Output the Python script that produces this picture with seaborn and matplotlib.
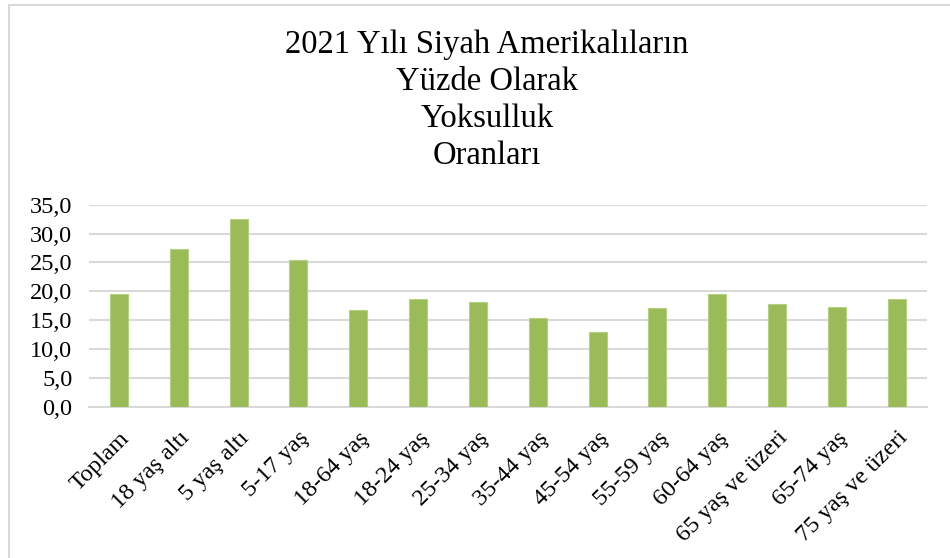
import matplotlib
matplotlib.use("Agg")
import matplotlib.pyplot as plt
from matplotlib.lines import Line2D
from matplotlib.ticker import FuncFormatter
import seaborn as sns
import pandas as pd

# Data
categories = ['Toplam', '18 yaş altı', '5 yaş altı', '5-17 yaş', '18-64 yaş',
              '18-24 yaş', '25-34 yaş', '35-44 yaş', '45-54 yaş', '55-59 yaş',
              '60-64 yaş', '65 yaş ve üzeri', '65-74 yaş', '75 yaş ve üzeri']
rates = [19.5, 27.3, 32.5, 25.5, 16.7, 18.7, 18.1, 15.3, 12.9, 17.1,
         19.6, 17.8, 17.3, 18.7]
title_lines = ['2021 Yılı Siyah Amerikalıların', 'Yüzde Olarak', 'Yoksulluk', 'Oranları']
y_ticks = [0, 5, 10, 15, 20, 25, 30, 35]

sns.set_theme(style='white')
plt.rcParams['font.family'] = ['Liberation Serif', 'DejaVu Serif']
plt.rcParams['text.color'] = 'black'

df = pd.DataFrame({'kategori': categories, 'oran': rates})

fig = plt.figure(figsize=(9.5, 5.58), dpi=100)
ax = fig.add_axes([89 / 950, 1 - 406.7 / 558, (926.7 - 89) / 950, (406.7 - 204.7) / 558])

sns.barplot(data=df, x='kategori', y='oran', color='#9BBB59', saturation=1,
            width=0.3, edgecolor='#B5CF85', linewidth=0.8, ax=ax, zorder=3)

ax.set_ylim(0, 35)
ax.set_xlim(-0.5, len(categories) - 0.5)
ax.set_yticks(y_ticks)
ax.yaxis.set_major_formatter(FuncFormatter(lambda v, p: f'{v:.1f}'.replace('.', ',')))
ax.grid(axis='y', color='#D9D9D9', linewidth=1.5, zorder=0)
ax.set_axisbelow(True)
for side in ['top', 'right', 'left']:
    ax.spines[side].set_visible(False)
ax.spines['bottom'].set_color('#D9D9D9')
ax.spines['bottom'].set_linewidth(1.5)
ax.tick_params(axis='both', length=0, labelsize=17.5, colors='black')
ax.tick_params(axis='y', pad=12)
ax.tick_params(axis='x', pad=15)
plt.setp(ax.get_xticklabels(), rotation=45, ha='right', rotation_mode='anchor')
ax.set_xlabel('')
ax.set_ylabel('')

fig.text(487 / 950, 1 - 100 / 558, '\n'.join(title_lines), ha='center', va='center',
         fontsize=23.5, linespacing=1.27, color='black')

# light frame on the top and left edges
fig.add_artist(Line2D([8.5 / 950, 1], [1 - 4.5 / 558, 1 - 4.5 / 558], color='#D9D9D9', lw=1.5))
fig.add_artist(Line2D([8.5 / 950, 8.5 / 950], [0, 1 - 4.5 / 558], color='#D9D9D9', lw=1.5))

fig.savefig('out.png', dpi=100)
